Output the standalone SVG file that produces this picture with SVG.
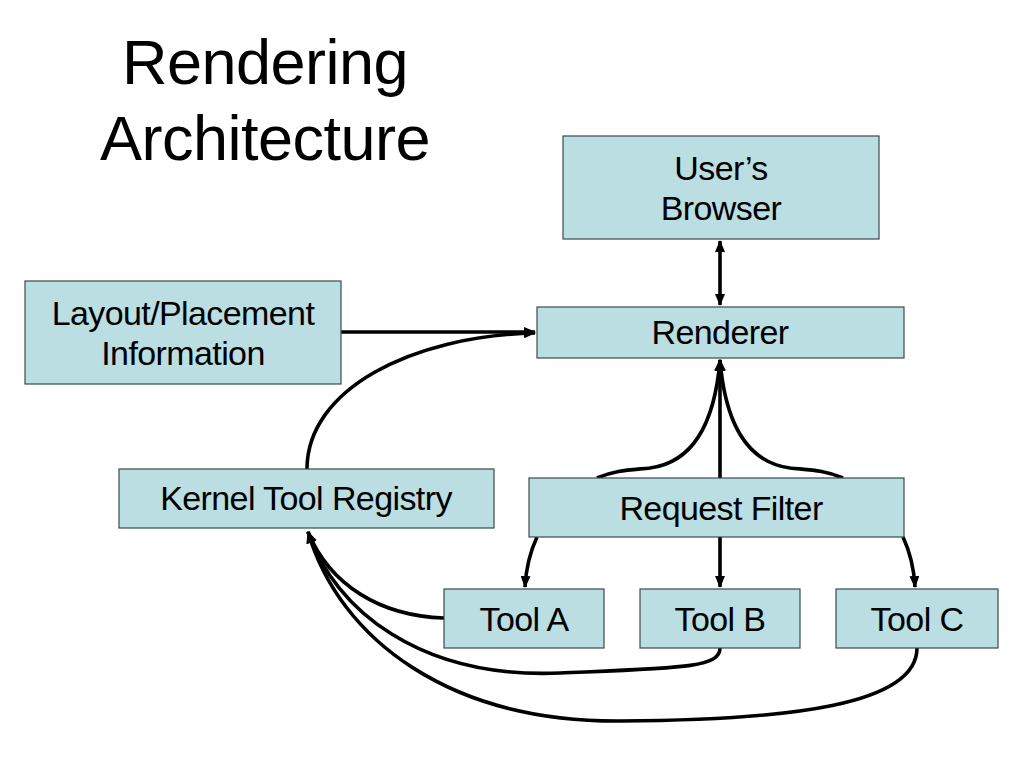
<svg xmlns="http://www.w3.org/2000/svg" width="1024" height="768" viewBox="0 0 1024 768">
<defs>
<marker id="ah" viewBox="0 0 12 10" refX="11" refY="5" markerWidth="12" markerHeight="10" markerUnits="userSpaceOnUse" orient="auto-start-reverse">
<path d="M0,0 L12,5 L0,10 Z" fill="#000"/>
</marker>
<style>
.box{fill:#badee1;stroke:#3a4a4c;stroke-width:1.2}
.lbl{font-family:"Liberation Sans",Arial,sans-serif;font-size:34px;letter-spacing:-0.6px;fill:#000;text-anchor:middle}
.ttl{font-family:"Liberation Sans",Arial,sans-serif;font-size:63px;letter-spacing:-0.5px;fill:#000;text-anchor:middle}
.c{fill:none;stroke:#000;stroke-width:3.6}
</style>
</defs>
<rect width="1024" height="768" fill="#fff"/>
<text class="ttl" x="265" y="84">Rendering</text>
<text class="ttl" x="265" y="160">Architecture</text>
<g id="connectors">
<path class="c" d="M720,241 L720,305" marker-start="url(#ah)" marker-end="url(#ah)"/>
<path class="c" d="M341,332 L535,332" marker-end="url(#ah)"/>
<path class="c" d="M307,469 C307,390 410,336 535,333" marker-end="url(#ah)"/>
<path class="c" d="M720,478 L720,360" marker-end="url(#ah)"/>
<path class="c" d="M597,478 C615,470 630,470 650,468 C695,462 715,420 720,360" marker-end="url(#ah)"/>
<path class="c" d="M843,478 C825,470 810,470 790,468 C745,462 725,420 720,360" marker-end="url(#ah)"/>
<path class="c" d="M537,537 C530,552 526,568 525,587" marker-end="url(#ah)"/>
<path class="c" d="M720,537 L720,587" marker-end="url(#ah)"/>
<path class="c" d="M903,537 C910,552 914,568 915,587" marker-end="url(#ah)"/>
<path class="c" d="M444,618 C380,616 330,585 308,532" marker-end="url(#ah)"/>
<path class="c" d="M720,648 C720,668 680,668 560,673 C420,679 335,610 308,532" marker-end="url(#ah)"/>
<path class="c" d="M917,648 C917,705 790,720 620,721 C450,722 340,640 308,532" marker-end="url(#ah)"/>
</g>
<g id="browser"><rect class="box" x="563" y="136" width="316" height="103"/><text class="lbl" x="721" y="180">User’s</text><text class="lbl" x="721" y="220">Browser</text></g>
<g id="layout"><rect class="box" x="25" y="281" width="316" height="103"/><text class="lbl" x="183" y="325">Layout/Placement</text><text class="lbl" x="183" y="365">Information</text></g>
<g id="renderer"><rect class="box" x="537" y="307" width="367" height="51"/><text class="lbl" x="720" y="344">Renderer</text></g>
<g id="registry"><rect class="box" x="119" y="469" width="375" height="59"/><text class="lbl" x="306" y="510">Kernel Tool Registry</text></g>
<g id="filter"><rect class="box" x="529" y="478" width="375" height="59"/><text class="lbl" x="721" y="520">Request Filter</text></g>
<g id="toolA"><rect class="box" x="444" y="589" width="160" height="59"/><text class="lbl" x="524" y="631">Tool A</text></g>
<g id="toolB"><rect class="box" x="640" y="589" width="160" height="59"/><text class="lbl" x="720" y="631">Tool B</text></g>
<g id="toolC"><rect class="box" x="836" y="589" width="162" height="59"/><text class="lbl" x="917" y="631">Tool C</text></g>
</svg>
